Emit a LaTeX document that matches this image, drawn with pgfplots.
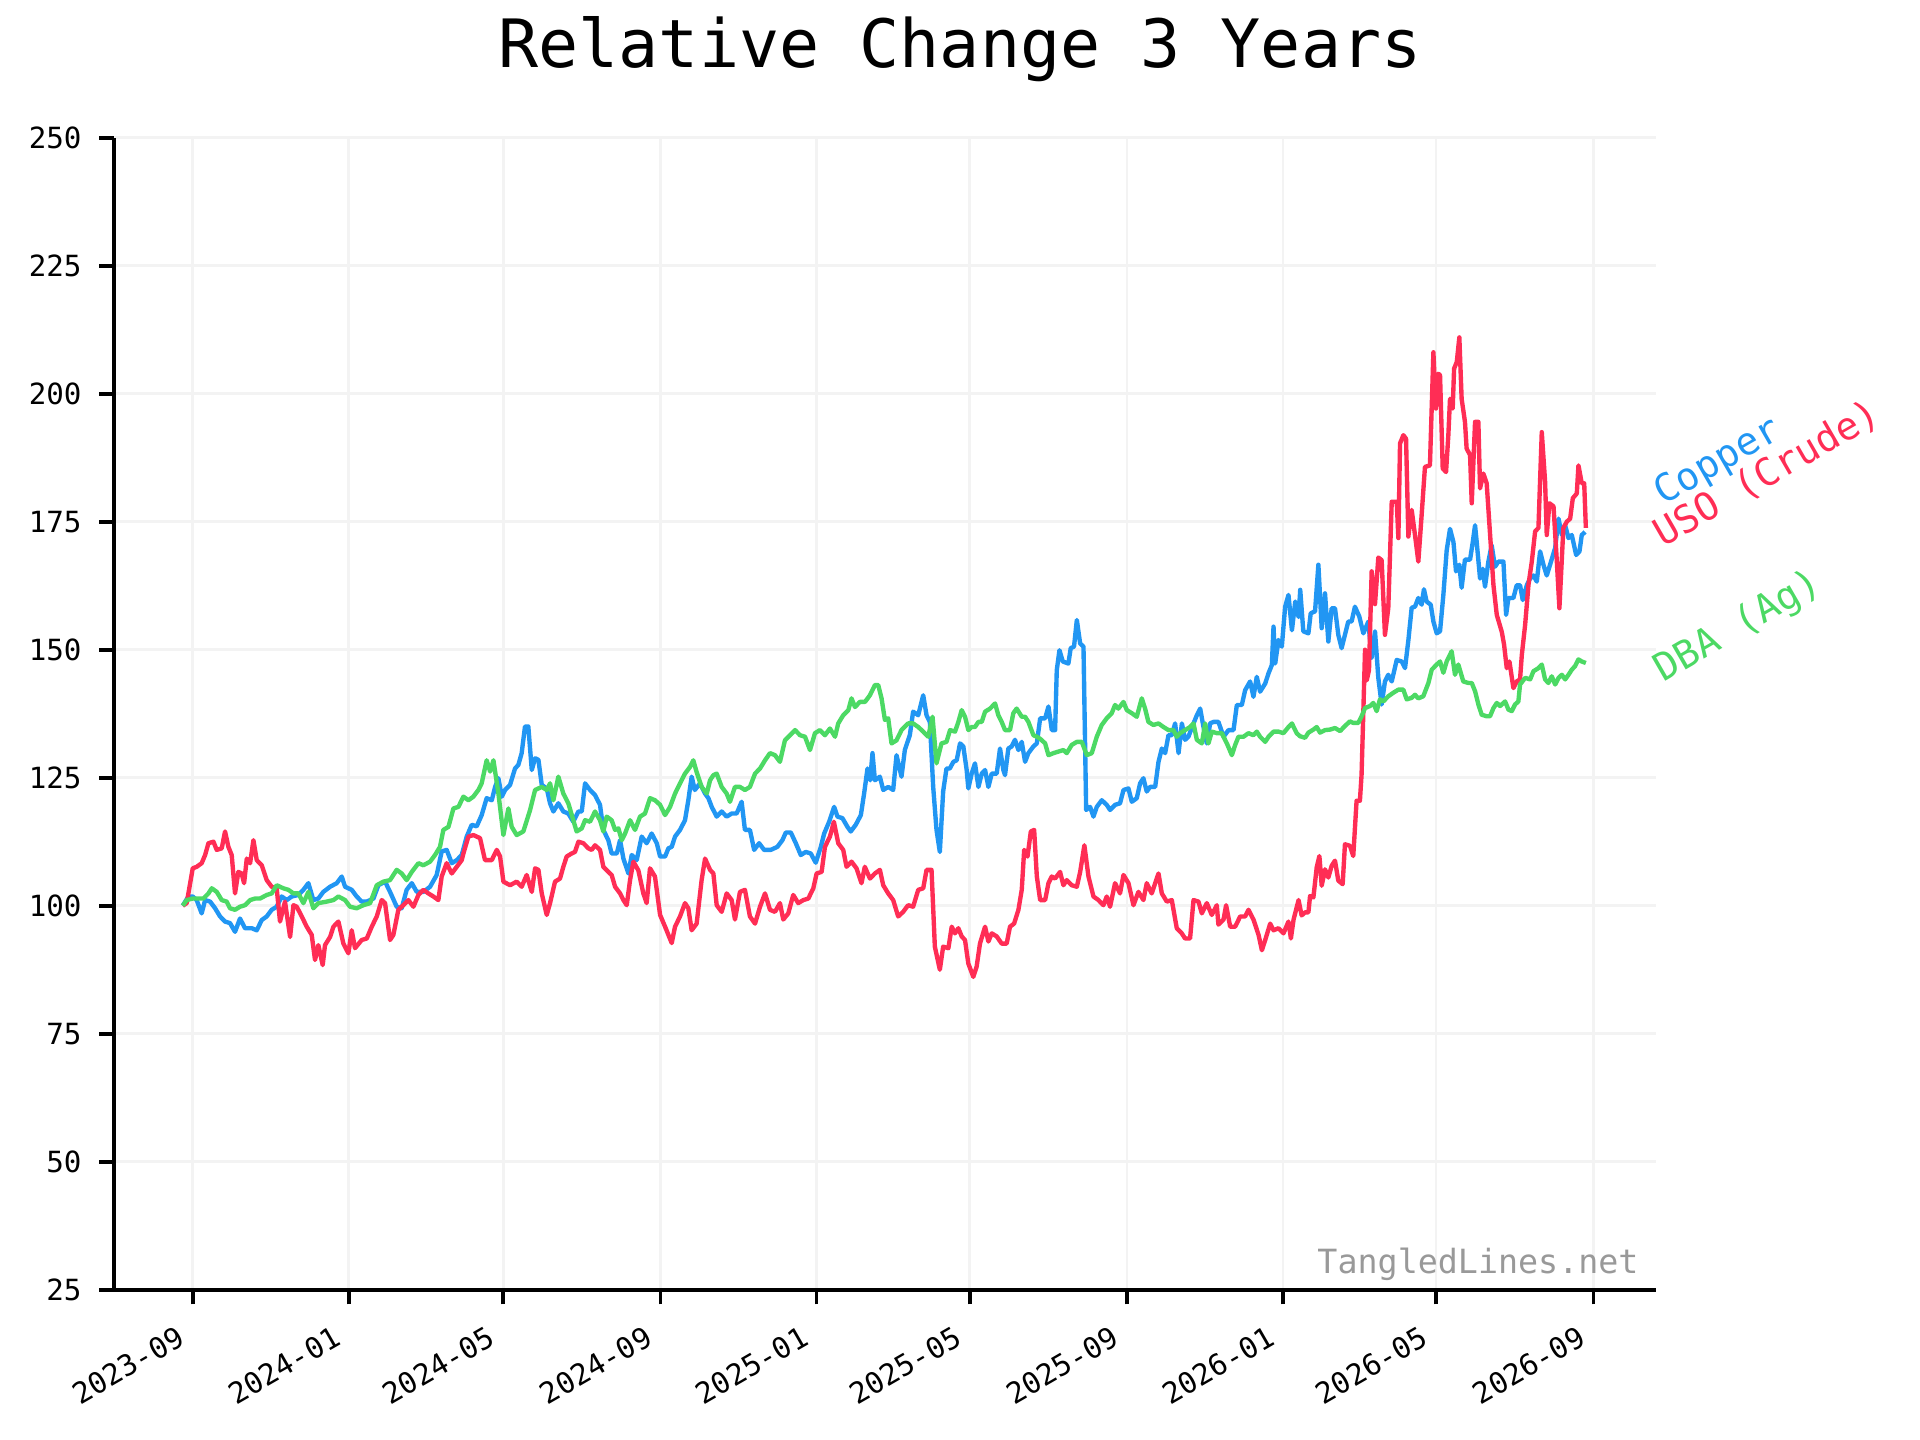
\documentclass[border=0pt]{standalone}
\usepackage{fontspec}
\setmainfont{DejaVu Sans Mono}
\usepackage{pgfplots}
\pgfplotsset{compat=1.18}
\definecolor{cCopper}{HTML}{2196F3}
\definecolor{cUSO}{HTML}{FF2D55}
\definecolor{cDBA}{HTML}{4CD964}
\definecolor{gridc}{HTML}{F3F3F3}
\definecolor{wm}{HTML}{999999}
\tikzset{
  tl/.style={font=\fontsize{7}{8.4}\selectfont, inner sep=0},
  xl/.style={tl, rotate=30, anchor=north east},
  yl/.style={tl, anchor=east},
  sl/.style={rotate=30, anchor=base west, inner sep=0, font=\fontsize{9.2}{11}\selectfont},
}
\begin{document}
\begin{tikzpicture}
\useasboundingbox (0,0) rectangle (460.8pt,345.6pt);
\node[anchor=base, font=\fontsize{16}{19}\selectfont, inner sep=0] at (230.4pt,329.4pt) {Relative Change 3 Years};
\begin{axis}[
  at={(27.36pt,36.07pt)}, anchor=south west,
  scale only axis, width=369.96pt, height=276.48pt,
  xmin=-61.6, xmax=1144.6, ymin=25, ymax=250,
  axis x line*=bottom, axis y line*=left,
  axis line style={line width=0.9pt, black},
  tick align=outside, major tick length=3.5pt,
  every tick/.style={black, line width=0.9pt},
  xtick={0,122,243,366,488,608,731,853,973,1096},
  xticklabels={},
  ytick={25,50,75,100,125,150,175,200,225,250},
  yticklabels={},
  grid=major, major grid style={line width=0.6pt, color=gridc},
  clip=false,
  every axis plot/.append style={line width=1.05pt, line join=round},
]
\addplot[cCopper] coordinates {
(-7.8,100) (-3.4,101.8) (0,101.8) (3.1,101.1) (7.0,98.5) (9.7,101.1) (13.6,100.8) (17.5,99.5) (21.4,97.9) (25.3,96.9) (29.2,96.6) (33.1,94.9) (37.0,97.5) (40.9,95.6) (46.2,95.6) (50.1,95.2) (54.0,97.2) (57.9,97.9) (61.8,99.2) (65.7,99.8) (69.6,101.8) (73.6,101.1) (77.5,101.8) (82.7,102.1) (86.6,103.1) (90.5,104.4) (94.4,101.1) (98.3,101.4) (102.2,102.7) (107.5,103.7) (112.7,104.4) (116.6,105.7) (119.2,103.7) (124.4,103.1) (128.3,101.8) (132.2,100.8) (136.2,100.8) (141.4,101.4) (145.3,104) (150.5,104.7) (154.4,102.7) (159.6,99.8) (163.5,99.5) (167.4,103.1) (171.4,104.4) (175.3,102.7) (180.5,102.7) (185.7,103.7) (190.9,106) (194.8,110.6) (198.7,110.9) (202.7,108.3) (206.6,108.9) (210.5,109.9) (214.4,113.5) (218.3,115.8) (222.2,115.5) (226.1,117.7) (230.0,121) (234.0,120.6) (236.6,123.2) (239.2,124.9) (241.8,121.3) (244.4,122.6) (248.3,123.6) (252.2,126.8) (254.8,127.5) (257.4,129.8) (260.0,135) (262.6,135) (265.3,126.5) (267.9,128.8) (270.5,128.5) (273.1,123.6) (277.0,122.9)
(279.6,120) (282.2,118.4) (286.1,120) (290.0,118.4) (293.9,118) (297.8,116.4) (301.8,118.4) (304.4,118.4) (307.0,123.9) (310.9,122.6) (314.8,121.6) (318.7,119.7) (321.3,114.8) (325.2,112.8) (327.8,110.2) (331.8,110.2) (334.4,112.8) (337.0,109.2) (340.9,106.3) (343.5,109.9) (347.4,108.9) (351.3,113.5) (355.2,112.2) (359.1,114.1) (363.1,112.2) (365.7,109.6) (369.6,109.6) (372.2,111.2) (374.8,111.5) (377.4,113.5) (381.3,114.8) (385.2,116.7) (387.8,120.6) (390.4,125.2) (392.9,122.6) (396.9,123.9) (400.9,121.9) (403.5,121) (406.1,119.3) (410.0,117.4) (413.9,118.4) (417.8,117.4) (421.7,118) (425.6,118) (429.5,120.3) (432.1,114.8) (436.0,114.8) (439.3,110.9) (443.2,112.2) (447.1,110.9) (452.3,110.9) (457.5,111.5) (461.4,112.8) (464.1,114.3) (468.0,114.3) (471.9,112.2) (475.8,109.9) (479.7,110.5) (483.6,110.2) (487.5,108.4) (491.5,111.5) (494.1,114.1) (498.0,116.4) (501.9,119.3) (504.5,117.4) (508.4,117.1) (512.3,115.4) (514.9,114.5) (518.8,115.8) (522.8,117.7) (525.4,122) (528.0,126.8) (530.1,124.5) (531.9,129.8) (533.8,124.5) (537.7,125.2) (540.3,122.6) (544.2,123.2) (548.1,122.6) (550.7,129.4) (554.6,125.2) (557.2,130.4) (561.1,133.3) (563.7,137.9) (567.7,137.2) (571.6,141.1) (574.2,137.2) (576.8,135.9) (579.4,123.2) (582.0,114.8) (584.6,110.5) (587.2,122.3) (589.8,126.8) (592.4,126.8)
(595.2,128.1) (597.8,128.4) (600.4,131.7) (603.0,131.1) (605.6,126.5) (606.9,122.9) (609.5,125.8) (612.1,127.8) (614.8,123.2) (617.4,125.8) (620.0,126.5) (622.6,123.2) (625.2,125.8) (629.1,125.8) (631.7,130.7) (634.3,126.5) (635.6,125.5) (638.2,130.7) (640.8,131.1) (643.4,132.4) (646.1,130.4) (648.7,132) (651.3,128.1) (653.9,129.8) (657.8,131.1) (660.5,131.7) (663.1,136.6) (667.0,136.6) (669.6,138.9) (672.2,134.3) (674.8,134.3) (676.1,146) (678.2,149.9) (680.8,147.7) (685.2,147.3) (687.0,150.3) (689.6,150.6) (691.8,155.8) (694.4,151.2) (697.0,150.6) (699.1,118.7) (702.2,119.3) (704.8,117.4) (707.4,119.3) (711.3,120.6) (715.2,119.7) (717.8,118.7) (721.7,119.7) (725.6,120) (728.3,122.6) (732.2,122.9) (734.8,120.3) (738.7,121) (741.3,123.9) (743.9,124.9) (746.5,122.3) (749.1,123.2) (753.1,123.2) (755.7,128.1) (758.3,130.7) (760.9,129.8) (763.5,133.3) (766.1,133.3) (768.7,135.6) (771.4,129.8) (774.0,135.6) (776.5,132.4) (779.1,133) (783.1,135.6) (785.7,137.2) (788.3,138.5) (790.9,134.9) (793.5,131.7) (796.1,135.6) (798.7,135.9) (802.6,135.9) (806.6,133) (810.5,134.3) (814.4,134.3) (817.0,139.2) (820.9,139.2) (823.5,142.1) (827.4,143.8) (830.0,140.8) (832.6,144.7) (835.2,141.8) (839.2,143.4) (841.8,145.4) (844.4,147) (845.7,154.5) (847.0,147.3) (849.6,151.9) (852.2,150.6) (854.8,158.4) (857.4,160.7) (860.1,153.8) (862.7,159.4) (865.3,156.4)
(866.6,161.7) (869.0,153.6) (873.0,153.2) (874.8,157.1) (878.2,157.5) (880.8,166.6) (883.4,154.2) (886.0,161) (888.6,151.6) (891.2,158.1) (893.8,158.1) (896.4,152.9) (899.0,150.3) (901.6,152.9) (904.2,155.5) (906.8,155.5) (909.4,158.4) (912.8,156.5) (916.0,153.2) (919.9,155.5) (922.5,148.4) (925.1,153.6) (927.7,144.5) (930.3,139.3) (932.9,143.8) (935.5,145.1) (938.2,143.8) (942.1,148) (946.0,147.7) (948.6,146.4) (951.2,151.8) (953.8,158.2) (956.4,158.4) (959.0,160.1) (961.6,158.8) (963.4,161.8) (965.5,159.4) (968.7,158.8) (970.8,155.5) (973.4,153.2) (976.0,153.6) (978.6,160.7) (981.2,169.4) (983.8,173.6) (986.5,171) (988.5,165.3) (991.1,166.6) (992.9,162.1) (995.5,167.6) (999.5,167.6) (1001.6,171) (1003.4,174.3) (1004.7,171) (1007.3,163.9) (1009.4,165.8) (1011.2,162.3) (1013.8,167.2) (1016.4,170.4) (1019.0,166.2) (1021.6,167.2) (1025.6,167.2) (1027.7,156.8) (1029.5,160.1) (1033.4,160.1) (1036.0,162.6) (1038.6,162.6) (1040.7,159.7) (1043.9,162.6) (1046.5,163.9) (1049.1,164.5) (1051.7,163.3) (1054.3,169.2) (1056.9,166.6) (1059.5,164.5) (1062.1,166.6) (1066.1,169.9) (1068.7,175.6) (1071.3,172.4) (1073.9,174.3) (1076.5,171.8) (1079.1,172.4) (1082.5,168.5) (1085.1,169.2) (1086.9,172.4) (1089.5,173)
};
\addplot[cUSO] coordinates {
(-7.8,100) (-4.7,100.5) (0,107.3) (3.1,107.6) (7.0,108.3) (9.7,109.9) (12.3,112.2) (16.2,112.5) (18.8,110.9) (22.7,111.2) (25.3,114.5) (27.9,111.5) (30.5,109.9) (33.1,102.4) (35.7,106.6) (38.3,106.3) (40.2,104.4) (42.3,109.2) (44.9,108.3) (47.5,112.8) (50.1,108.9) (54.0,107.9) (57.9,105) (61.8,103.7) (65.7,103.4) (68.3,96.9) (72.2,100.8) (76.2,93.9) (78.8,100.1) (81.4,99.8) (85.3,97.9) (89.2,95.9) (93.1,94.3) (95.7,89.4) (98.3,92.3) (101.7,88.4) (103.5,92.3) (107.5,93.9) (110.1,95.9) (114.0,96.9) (117.9,92.6) (121.8,90.7) (124.4,95.2) (127.0,91.7) (132.2,93.3) (136.2,93.6) (140.1,95.9) (144.0,97.9) (147.9,101.1) (150.5,100.5) (154.4,93.3) (157.0,94.3) (160.9,99.2) (164.8,100.1) (168.7,101.1) (172.7,99.8) (176.6,102.1) (180.5,103.1) (184.4,102.4) (188.3,101.8) (192.2,101.1) (194.8,105.7) (198.7,108.3) (202.7,106.3) (206.6,107.6) (210.5,108.9) (211.8,110.2) (215.7,113.5) (219.6,113.8) (224.8,113.2) (228.7,108.9) (234.0,108.9) (237.9,110.9) (240.5,109.6) (243.1,104.7) (248.3,104) (253.5,104.7) (257.4,103.7) (261.3,106) (265.3,102.7) (267.9,107.3) (270.5,107) (273.1,102.4) (277.0,98.2)
(279.6,100.5) (283.5,104.7) (287.4,105.3) (290.0,107.6) (292.6,109.6) (296.5,110.2) (299.1,110.5) (301.8,112.5) (305.7,112.2) (309.6,111.2) (312.2,110.9) (314.8,111.8) (318.7,110.9) (321.3,107.6) (325.2,106.6) (327.8,106) (330.5,103.7) (334.4,102.4) (337.0,101.1) (339.6,100.1) (342.2,105) (344.8,108.6) (348.7,106.9) (352.6,102.4) (355.2,100.5) (357.8,107.3) (361.7,105.7) (365.7,98.2) (369.6,95.9) (374.8,92.7) (377.4,95.9) (381.3,97.9) (385.2,100.5) (387.8,99.5) (390.4,95.2) (394.3,96.5) (398.2,105) (400.9,109.2) (404.8,107) (407.4,106.3) (410.0,100.1) (413.9,98.8) (417.8,102.4) (421.7,101.1) (424.3,97.3) (428.2,102.7) (432.1,103.1) (436.0,97.9) (440.0,96.5) (443.9,99.8) (447.8,102.4) (451.7,99.2) (455.6,98.8) (459.5,100.5) (462.1,97.3) (466.0,98.5) (469.9,102.1) (473.8,100.5) (477.8,101.1) (481.7,101.4) (485.6,103.4) (488.2,106.3) (492.1,106.6) (494.7,111.5) (498.6,113.5) (501.7,116.4) (505.1,112.2) (509.0,110.9) (511.6,107.6) (515.5,108.6) (519.4,107.3) (523.3,104.4) (525.9,107.6) (529.9,105.3) (533.8,106.3) (537.7,107) (540.3,104) (544.2,102.4) (548.1,101.1) (552.0,97.9) (555.9,98.8) (559.8,100.1) (563.7,99.8) (567.7,103.1) (571.6,103.4) (574.2,107) (578.1,107) (580.7,92) (584.6,87.5) (587.2,92)
(591.3,91.7) (593.9,95.9) (596.5,94.6) (599.1,95.6) (601.7,94) (604.3,93.3) (606.9,88.7) (610.8,86.1) (613.4,88.1) (616.0,92.6) (620.0,95.9) (622.6,93) (625.2,94.6) (629.1,94) (633.0,92.6) (636.9,92.6) (639.5,95.9) (642.7,96.5) (646.1,99.2) (648.7,103.1) (650.6,110.9) (653.2,109.6) (655.8,114.5) (658.4,114.8) (660.5,105.7) (663.1,101.1) (667.0,101.1) (669.6,104.4) (672.2,105.7) (674.8,105.3) (678.7,106.6) (681.3,104) (683.9,105) (687.8,104) (691.8,103.7) (694.4,106.6) (697.7,111.8) (700.9,105.7) (704.8,101.8) (708.7,101.1) (712.6,100.1) (715.2,101.8) (717.8,99.8) (721.7,104.4) (725.6,102.4) (728.3,106) (732.2,104.4) (736.1,100.1) (740.0,102.7) (743.9,101.1) (746.5,104.4) (750.4,102.4) (755.7,106.3) (758.3,102.4) (762.2,100.8) (766.1,101.1) (770.0,95.6) (773.9,94.6) (776.5,93.6) (780.4,93.6) (783.1,101.1) (787.0,100.8) (789.6,98.5) (793.5,100.5) (797.4,98.2) (801.3,100.1) (802.6,96.3) (806.6,97.3) (808.6,100.1) (811.8,95.9) (815.7,95.9) (819.6,97.9) (823.5,97.9) (826.1,99.2) (830.0,97.3) (834.0,94.3) (836.6,91.3) (839.2,93.3) (843.1,96.5) (845.7,95.2) (849.6,95.6) (853.5,94.6) (857.4,96.9) (859.3,93.6) (861.4,97.3) (865.3,101.1)
(867.7,98.1) (870.4,98.7) (873.0,98.7) (874.3,101.9) (876.9,101.6) (879.5,107.5) (881.6,109.7) (883.4,103.9) (886.0,107.1) (888.6,105.5) (891.2,107.8) (893.8,108.8) (896.4,104.9) (899.8,104.2) (901.6,112) (905.5,111.7) (908.1,109.7) (910.7,120.5) (913.3,120.5) (914.6,125.6) (916.0,138) (917.3,150) (918.6,144) (920.4,146) (922.5,165.3) (925.1,158.9) (927.7,168) (930.3,167.5) (932.9,152.9) (935.5,158.1) (938.2,178.9) (942.1,178.9) (943.4,171.8) (944.7,190.3) (947.3,191.9) (949.4,191.2) (951.2,172.1) (953.8,177.3) (956.4,172.4) (959.0,167.2) (961.6,176.3) (964.2,185.7) (968.1,186) (970.8,208.1) (972.8,197.1) (974.7,203.9) (976.0,203.6) (978.1,185.4) (980.7,184.7) (982.5,191.9) (983.8,199) (985.9,197.1) (987.0,204.9) (989.1,206.2) (991.1,211) (992.9,199) (995.5,194.5) (996.8,189.3) (999.5,188) (1000.8,178.6) (1003.4,194.5) (1006.0,194.5) (1007.3,181.5) (1009.9,184.4) (1012.5,182.5) (1015.1,172.7) (1017.8,162.6) (1020.4,156.8) (1024.3,153.5) (1026.1,151) (1028.2,146.4) (1030.3,147.7) (1033.4,142.5) (1036.0,143.8) (1038.6,144.2) (1040.0,149) (1042.6,154.9) (1045.2,162.7) (1047.8,167.2) (1050.4,173.1) (1053.0,173.8) (1055.6,192.5) (1058.2,182.8) (1059.5,172.4) (1061.6,178.6) (1064.8,178) (1067.4,167.2) (1069.4,158.1) (1072.5,173.8) (1075.2,175) (1077.8,175.6) (1079.9,179.6) (1083.0,180.5) (1084.3,186) (1086.9,182.5) (1088.8,182.5) (1090.1,173.8)
};
\addplot[cDBA] coordinates {
(-7.8,100) (-4.7,101.1) (0,101.4) (4.4,101.4) (8.3,101.4) (12.3,102.4) (14.9,103.4) (18.8,102.7) (22.7,101.1) (26.6,100.8) (29.2,99.5) (33.1,99.2) (37.0,99.8) (40.9,100.1) (44.9,101.1) (48.8,101.4) (52.7,101.4) (57.9,102.1) (61.8,102.4) (65.7,104) (70.9,103.4) (74.9,103.1) (78.8,102.4) (82.7,102.4) (86.6,100.5) (90.5,102.7) (94.4,99.5) (98.3,100.5) (104.9,100.8) (110.1,101.1) (114.0,101.8) (119.2,101.1) (123.1,99.8) (128.3,99.5) (133.5,100.1) (138.8,100.5) (144.0,104) (149.2,104.7) (154.4,105) (159.6,107) (163.5,106.3) (167.4,105) (171.4,106.6) (176.6,108.3) (180.5,107.9) (185.7,108.6) (189.6,109.9) (193.5,111.5) (196.1,114.8) (200.1,115.4) (204.0,119) (207.9,119.3) (211.8,121.3) (215.7,120.6) (219.6,121.3) (223.5,122.6) (226.1,123.9) (230.0,128.4) (232.7,126.2) (235.3,128.4) (239.2,121.9) (243.1,113.8) (247.0,119) (249.6,115.4) (253.5,113.8) (258.7,114.5) (264.0,118.7) (267.9,122.6) (273.1,123.2) (277.0,122.6)
(279.6,123.9) (282.2,120.6) (286.1,125.2) (290.0,121.9) (293.9,120) (297.8,116.7) (300.4,114.5) (304.4,115.1) (307.0,116.7) (310.9,116.4) (314.8,118.4) (318.7,116.7) (321.3,114.5) (323.9,117.4) (327.8,116.7) (330.5,114.8) (333.1,115.1) (335.7,112.8) (338.3,114.1) (342.2,116.7) (346.1,114.8) (350.0,117.4) (353.9,118) (357.8,121) (361.7,120.6) (365.7,119.7) (369.6,117.7) (373.5,119.3) (377.4,121.9) (381.3,123.9) (385.2,125.8) (389.1,127.1) (391.7,128.4) (394.3,126.1) (398.2,123.2) (402.2,121.9) (404.8,124.5) (407.4,125.5) (410.0,125.8) (413.9,123.2) (417.8,121.9) (420.4,120.3) (424.3,123.2) (428.2,123.2) (432.1,122.6) (436.0,123.2) (440.0,125.8) (443.9,126.8) (447.8,128.4) (451.7,129.8) (455.6,129.4) (459.5,128.1) (463.4,132.3) (467.4,133.3) (471.3,134.3) (475.2,133.3) (479.1,133) (483.0,130.4) (486.9,133.7) (490.8,134.3) (494.7,133.3) (498.6,134.6) (502.6,133) (505.1,135.6) (509.0,137.2) (513.0,138.2) (515.5,140.5) (518.2,138.8) (522.0,139.8) (526.0,139.8) (529.9,141.1) (533.8,143.1) (536.4,143.1) (539.0,140.5) (541.6,136.3) (544.2,136.6) (546.8,131.7) (550.7,132.3) (554.6,134.3) (559.8,135.6) (563.7,135.6) (567.7,134.9) (571.6,134) (575.5,133) (578.9,136.9) (582.0,127.8) (585.9,131.7) (589.8,132)
(592.6,134.3) (596.5,134) (599.1,135.9) (601.7,138.2) (604.3,136.9) (606.9,134.3) (609.5,134.9) (612.1,134.9) (614.8,135.9) (617.4,135.9) (620.0,137.9) (623.9,138.5) (627.8,139.5) (630.4,137.2) (633.0,135.9) (635.6,134.3) (639.5,134.3) (642.1,137.6) (644.7,138.5) (648.7,136.9) (651.3,136.9) (653.9,135.9) (657.8,133.3) (660.5,133) (663.1,132.6) (667.0,131.7) (669.6,129.4) (673.5,129.8) (677.4,130.1) (681.3,130.4) (683.9,129.8) (687.8,131.4) (691.8,132) (695.7,132) (699.6,129.4) (703.5,129.8) (707.4,133) (711.3,135.3) (715.2,136.6) (719.1,137.6) (721.7,139.2) (724.3,138.5) (728.3,139.8) (730.9,138.2) (734.8,137.6) (738.7,136.9) (742.6,140.5) (745.2,138.5) (747.8,135.9) (751.7,135.3) (755.7,135.6) (759.6,134.9) (763.5,134.3) (767.4,134.3) (770.0,133) (772.6,133.7) (776.5,134.3) (780.4,134.9) (783.1,135.6) (785.7,132.4) (789.6,131.7) (792.2,135.6) (794.8,131.7) (797.4,134) (801.3,133.7) (805.2,133.7) (809.2,131.7) (813.1,129.4) (815.7,131.4) (818.3,133) (822.2,133) (826.1,133.7) (830.0,133.3) (832.6,134) (835.2,133) (839.2,132) (841.8,133) (845.7,134) (849.6,134) (853.5,133.7) (857.4,134.9) (860.1,135.6) (863.8,133.7)
(866.4,133.1) (870.4,132.8) (873.0,133.8) (876.9,134.4) (879.5,134.9) (882.1,133.8) (886.0,134.3) (890.0,134.4) (893.8,134.7) (897.8,134.1) (901.6,135.1) (905.5,136) (908.1,135.7) (912.1,135.7) (914.6,137) (917.3,138.6) (921.2,139) (923.8,139.6) (926.4,138) (929.0,140.3) (931.6,139.9) (935.5,140.9) (939.5,141.6) (943.4,142.2) (947.3,142.2) (949.9,140.3) (953.8,140.6) (956.4,141.2) (959.0,140.5) (962.9,140.9) (966.9,143.5) (969.5,146.1) (973.4,147.1) (976.0,147.7) (978.6,145.5) (981.2,147.7) (985.1,149.7) (987.7,145.1) (990.3,147.1) (994.2,143.8) (998.2,143.5) (1000.8,143.5) (1003.4,141.9) (1006.0,139.3) (1008.6,137.3) (1012.5,137) (1015.1,137) (1017.8,138.6) (1020.4,139.6) (1023.0,139) (1026.9,139.9) (1029.5,138.3) (1032.1,138) (1034.7,139.3) (1037.3,139.9) (1038.6,143.2) (1042.6,144.5) (1046.5,144.2) (1049.1,145.8) (1053.0,146.4) (1055.6,147.1) (1058.2,144.2) (1060.8,143.5) (1063.4,144.8) (1066.1,143.2) (1068.7,144.5) (1071.3,145.1) (1073.9,144.2) (1076.5,145.1) (1079.1,146.1) (1081.7,146.8) (1084.3,148.1) (1086.9,147.7) (1090.1,147.4)
};
\node[xl] at ([xshift=-4.0pt,yshift=-8.2pt]axis cs:0,25) {2023-09};
\node[xl] at ([xshift=-4.0pt,yshift=-8.2pt]axis cs:122,25) {2024-01};
\node[xl] at ([xshift=-4.0pt,yshift=-8.2pt]axis cs:243,25) {2024-05};
\node[xl] at ([xshift=-4.0pt,yshift=-8.2pt]axis cs:366,25) {2024-09};
\node[xl] at ([xshift=-4.0pt,yshift=-8.2pt]axis cs:488,25) {2025-01};
\node[xl] at ([xshift=-4.0pt,yshift=-8.2pt]axis cs:608,25) {2025-05};
\node[xl] at ([xshift=-4.0pt,yshift=-8.2pt]axis cs:731,25) {2025-09};
\node[xl] at ([xshift=-4.0pt,yshift=-8.2pt]axis cs:853,25) {2026-01};
\node[xl] at ([xshift=-4.0pt,yshift=-8.2pt]axis cs:973,25) {2026-05};
\node[xl] at ([xshift=-4.0pt,yshift=-8.2pt]axis cs:1096,25) {2026-09};
\node[yl] at ([xshift=-7.6pt]axis cs:-61.6,25) {25};
\node[yl] at ([xshift=-7.6pt]axis cs:-61.6,50) {50};
\node[yl] at ([xshift=-7.6pt]axis cs:-61.6,75) {75};
\node[yl] at ([xshift=-7.6pt]axis cs:-61.6,100) {100};
\node[yl] at ([xshift=-7.6pt]axis cs:-61.6,125) {125};
\node[yl] at ([xshift=-7.6pt]axis cs:-61.6,150) {150};
\node[yl] at ([xshift=-7.6pt]axis cs:-61.6,175) {175};
\node[yl] at ([xshift=-7.6pt]axis cs:-61.6,200) {200};
\node[yl] at ([xshift=-7.6pt]axis cs:-61.6,225) {225};
\node[yl] at ([xshift=-7.6pt]axis cs:-61.6,250) {250};
\node[anchor=base east, text=wm, font=\fontsize{8}{9.6}\selectfont, inner sep=0] at (axis cs:1132,28.2) {TangledLines.net};
\node[sl, text=cCopper] at (axis cs:1150,178.0) {Copper};
\node[sl, text=cUSO] at (axis cs:1150,169.8) {USO (Crude)};
\node[sl, text=cDBA] at (axis cs:1150,143.5) {DBA (Ag)};
\end{axis}
\end{tikzpicture}
\end{document}
